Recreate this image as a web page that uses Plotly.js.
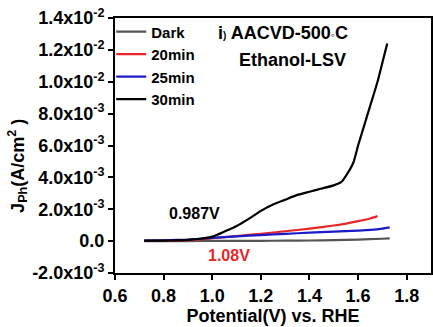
<!DOCTYPE html>
<html><head><meta charset="utf-8">
<script src="https://cdn.plot.ly/plotly-3.0.1.min.js"></script>
<style>html,body{margin:0;padding:0;background:#fff}#chart{width:433px;height:327px}</style>
</head><body><div id="chart"></div>
<script>
var seriesNames = ["Dark", "20min", "25min", "30min"];
var seriesColors = ["#555555", "#e8262a", "#1a1ac8", "#000000"];

var darkV = [0.72, 0.8, 0.9, 1.0, 1.1, 1.2, 1.3, 1.4, 1.5, 1.6, 1.7, 1.73];
var darkJ = [0.0, 0.0, 0.000005, 0.00001, 0.000015, 0.00002, 0.00003, 0.00004, 0.00006, 0.0001, 0.00015, 0.00017];

var min20V = [0.72, 0.8, 0.9, 1.0, 1.1, 1.2, 1.3, 1.4, 1.5, 1.55, 1.6, 1.65, 1.68];
var min20J = [0.00002, 0.00003, 0.00006, 0.00018, 0.00032, 0.00046, 0.00062, 0.00078, 0.00098, 0.0011, 0.00125, 0.00142, 0.00157];

var min25V = [0.72, 0.8, 0.9, 1.0, 1.1, 1.2, 1.3, 1.4, 1.5, 1.6, 1.65, 1.7, 1.73];
var min25J = [0.00003, 0.00005, 0.0001, 0.0002, 0.0003, 0.00038, 0.00046, 0.00053, 0.0006, 0.00066, 0.0007, 0.00078, 0.00086];

var min30V = [0.72, 0.8, 0.85, 0.9, 0.95, 1.0, 1.05, 1.1, 1.15, 1.2, 1.25, 1.3, 1.35, 1.4, 1.45, 1.5, 1.53, 1.55, 1.58, 1.6, 1.63, 1.65, 1.68, 1.7, 1.72];
var min30J = [0.00003, 0.00003, 0.00005, 0.00008, 0.00015, 0.00028, 0.0006, 0.00095, 0.0014, 0.0019, 0.0023, 0.0026, 0.0029, 0.0031, 0.0033, 0.0035, 0.0037, 0.0041, 0.0049, 0.006, 0.0075, 0.0085, 0.01, 0.0112, 0.0124];

var yTickVals = [-0.002, 0, 0.002, 0.004, 0.006, 0.008, 0.01, 0.012, 0.014];
var yTickText = ["-2.0x10<sup>-3</sup>", "0.0", "2.0x10<sup>-3</sup>", "4.0x10<sup>-3</sup>", "6.0x10<sup>-3</sup>", "8.0x10<sup>-3</sup>", "1.0x10<sup>-2</sup>", "1.2x10<sup>-2</sup>", "1.4x10<sup>-2</sup>"];
var xTickVals = [0.6, 0.8, 1.0, 1.2, 1.4, 1.6, 1.8];
var xTickText = ["0.6", "0.8", "1.0", "1.2", "1.4", "1.6", "1.8"];

var xs = [darkV, min20V, min25V, min30V];
var ys = [darkJ, min20J, min25J, min30J];
var F = "Liberation Sans, Arial, sans-serif";

var traces = seriesNames.map(function(n, i){
  return {x: xs[i], y: ys[i], name: n, type: "scatter", mode: "lines",
    line: {color: seriesColors[i], width: 2.2, shape: "spline", smoothing: 0.5}};
});

var layout = {
  width: 433, height: 327,
  margin: {l: 115, r: 2, t: 18, b: 54},
  paper_bgcolor: "#fff", plot_bgcolor: "#fff",
  font: {family: F, color: "#000", size: 18, weight: "bold"},
  showlegend: true,
  legend: {x: -0.012, y: 1.01, xanchor: "left", yanchor: "top", bgcolor: "rgba(0,0,0,0)",
    font: {family: F, size: 15, weight: "bold"}, itemwidth: 30, tracegroupgap: 0},
  xaxis: {range: [0.6, 1.9], tickvals: xTickVals, ticktext: xTickText,
    showline: true, linecolor: "#000", linewidth: 2, mirror: true,
    ticks: "outside", ticklen: 5, tickwidth: 2, tickcolor: "#000",
    showgrid: false, zeroline: false,
    tickfont: {family: F, size: 18, weight: "bold"},
    title: {text: "Potential(V) vs. RHE", font: {family: F, size: 18, weight: "bold"}, standoff: 2}},
  yaxis: {range: [-0.002, 0.014], tickvals: yTickVals, ticktext: yTickText,
    showline: true, linecolor: "#000", linewidth: 2, mirror: true,
    ticks: "outside", ticklen: 5, tickwidth: 2, tickcolor: "#000",
    showgrid: false, zeroline: false,
    tickfont: {family: F, size: 18, weight: "bold"}},
  annotations: [
    {xref: "paper", yref: "paper", x: -0.307, y: 0.42, xanchor: "center", yanchor: "middle", showarrow: false, textangle: -90,
     text: "J<sub>Ph</sub>(A/cm<sup>2</sup> )", font: {family: F, size: 18, weight: "bold"}},
    {xref: "paper", yref: "paper", x: 0.32, y: 0.94, xanchor: "left", yanchor: "middle", showarrow: false,
     text: "i<span style='font-size:10px'>)</span> AACVD-500<span style='font-size:12px'>◦</span>C", font: {family: F, size: 18, weight: "bold"}},
    {xref: "paper", yref: "paper", x: 0.385, y: 0.835, xanchor: "left", yanchor: "middle", showarrow: false,
     text: "Ethanol-LSV", font: {family: F, size: 18, weight: "bold"}},
    {xref: "x", yref: "y", x: 0.925, y: 0.00175, showarrow: false,
     text: "0.987V", font: {family: F, size: 16, weight: "bold", color: "#000"}},
    {xref: "x", yref: "y", x: 1.07, y: -0.0009, showarrow: false,
     text: "1.08V", font: {family: F, size: 16, weight: "bold", color: "#e8262a"}}
  ]
};
Plotly.newPlot("chart", traces, layout, {displayModeBar: false, staticPlot: true});
</script></body></html>
